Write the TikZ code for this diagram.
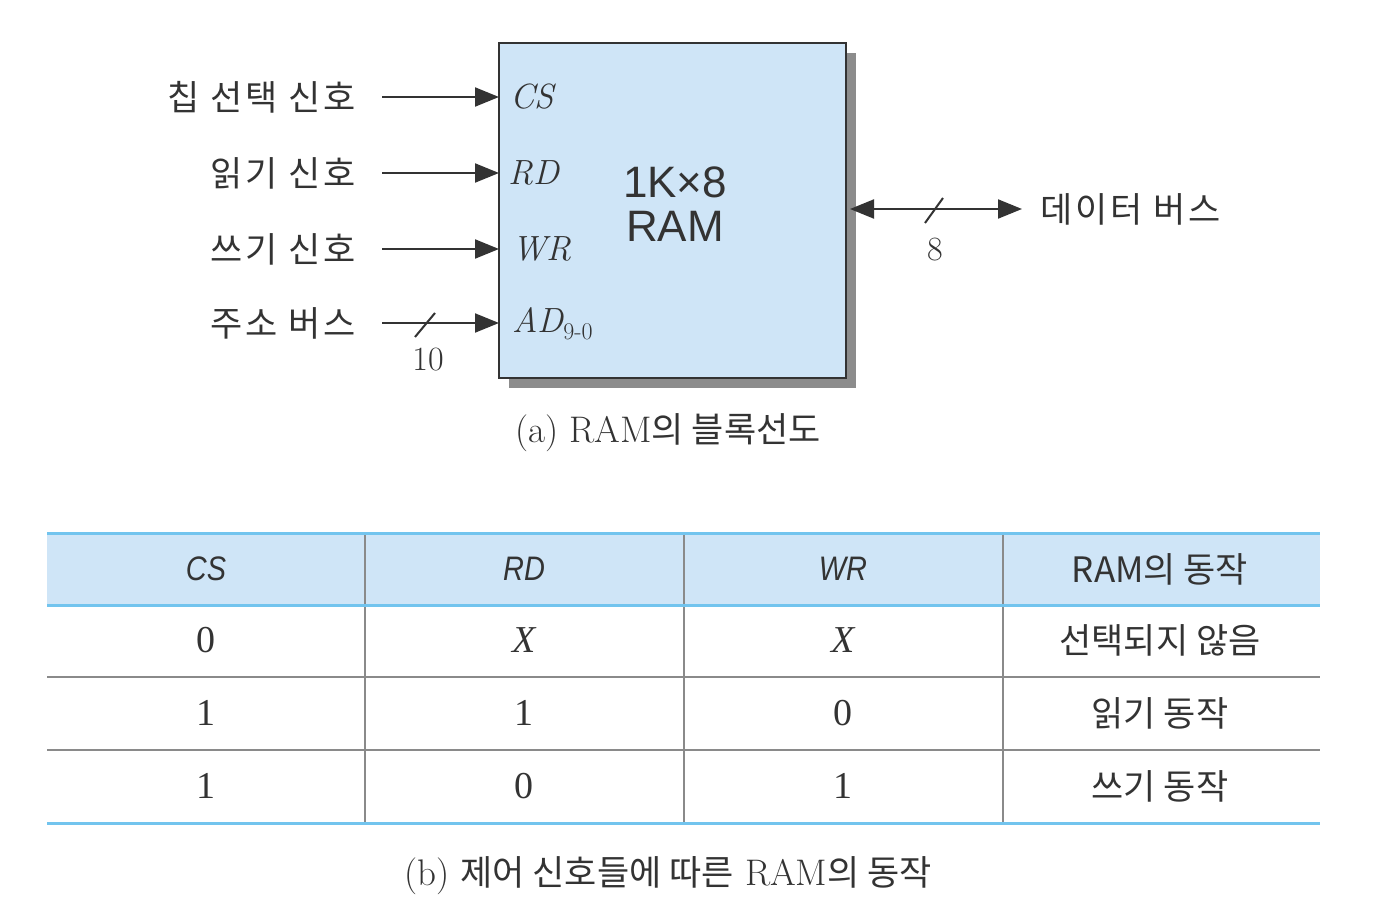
\documentclass[tikz,border=0pt]{standalone}
\usepackage{fontspec}
\newfontfamily\kr[LetterSpace=8]{Noto Sans CJK KR}
\newfontfamily\krt{Noto Sans CJK KR}
\newfontfamily\hv{Liberation Sans}
\newfontfamily\tm{Liberation Serif}
\usetikzlibrary{arrows.meta,shadows}
\definecolor{boxblue}{HTML}{CFE5F7}
\definecolor{tblue}{HTML}{72C4EE}
\definecolor{ink}{HTML}{333333}
\definecolor{rule}{HTML}{8A8A8A}
\tikzset{
  lbl/.style={font=\kr\fontsize{35}{38}\selectfont, text=ink, anchor=east, inner sep=0pt},
  pinlbl/.style={font=\fontsize{35}{38}\selectfont\itshape, text=ink, anchor=west, inner sep=0pt},
  sig/.style={line width=2pt, draw=ink, -{Triangle[length=24pt,width=19pt]}},
  bus/.style={line width=2pt, draw=ink, {Triangle[length=24pt,width=19pt]}-{Triangle[length=24pt,width=19pt]}},
  slash/.style={line width=2pt, draw=ink},
  num/.style={font=\fontsize{34}{38}\selectfont, text=ink, inner sep=0pt},
  cell/.style={font=\tm\fontsize{38}{40}\selectfont, text=ink, inner sep=0pt},
  kcell/.style={font=\krt\fontsize{35}{38}\selectfont, text=ink, inner sep=0pt},
  hcell/.style={font=\hv\itshape\fontsize{34}{36}\selectfont, text=ink, inner sep=0pt},
  captxt/.style={font=\fontsize{37}{40}\selectfont, text=ink, inner sep=0pt},
  tline/.style={line width=3pt, draw=tblue},
  gline/.style={line width=2pt, draw=rule},
}
\begin{document}
\begin{tikzpicture}[x=1pt,y=-1pt]
\useasboundingbox (0,0) rectangle (1374,918);

% RAM block
\node[draw=ink, line width=2.5pt, fill=boxblue, minimum width=347pt, minimum height=335pt,
      outer sep=0pt, inner sep=0pt,
      drop shadow={shadow xshift=10pt, shadow yshift=-10pt, fill=black!45, opacity=1}]
      (ram) at (672.5,210.5) {};
\node[font=\hv\fontsize{44}{46}\selectfont, text=ink, align=center, inner sep=0pt] (title) at (675,204)
      {1K×8\\[-2pt]RAM};

% inputs
\coordinate (cs0) at (382,97);
\coordinate (rd0) at (382,173);
\coordinate (wr0) at (382,249);
\coordinate (ad0) at (382,323);
\node[lbl] (lcs) at (356,97) {칩 선택 신호};
\node[lbl] (lrd) at (356,173) {읽기 신호};
\node[lbl] (lwr) at (356,249) {쓰기 신호};
\node[lbl] (lad) at (356,323) {주소 버스};
\draw[sig] (cs0) -- (ram.west |- cs0);
\draw[sig] (rd0) -- (ram.west |- rd0);
\draw[sig] (wr0) -- (ram.west |- wr0);
\draw[sig] (ad0) -- (ram.west |- ad0);
\coordinate (s1a) at (415,337);
\coordinate (s1b) at (435,313);
\draw[slash] (s1a) -- (s1b);
\node[num] (n10) at (428,360) {10};

\node[pinlbl] (pcs) at (510,97) {CS};
\node[pinlbl] (prd) at (508,173) {RD};
\node[pinlbl] (pwr) at (512,249) {WR};
\node[pinlbl] (pad) at (512,324) {AD\raisebox{-7pt}{\upshape\fontsize{24}{24}\selectfont 9-0}};

% data bus
\coordinate (db1) at (1022,209);
\draw[bus] (ram.east |- db1) ++(4,0) coordinate (db0) -- (db1);
\coordinate (s2a) at (925,223);
\coordinate (s2b) at (943,198);
\draw[slash] (s2a) -- (s2b);
\node[num] (n8) at (935,250) {8};
\node[lbl, anchor=west] (ldb) at (1040,209) {데이터 버스};

% caption a
\node[captxt] (capa) at (668,433) {(a) RAM{\krt\fontsize{35}{38}\selectfont 의 블록선도}};

% table
\fill[boxblue] (47,533) rectangle (1320,605);
\draw[gline] (365,533) -- (365,823);
\draw[gline] (684,533) -- (684,823);
\draw[gline] (1003,533) -- (1003,823);
\draw[gline] (47,677) -- (1320,677);
\draw[gline] (47,750) -- (1320,750);
\draw[tline] (47,533) -- (1320,533);
\draw[tline] (47,605) -- (1320,605);
\draw[tline] (47,823) -- (1320,823);

\node[hcell] (hcs) at (206,569) {\scalebox{0.85}[1]{CS}};
\node[hcell] (hrd) at (524,569) {\scalebox{0.85}[1]{RD}};
\node[hcell] (hwr) at (843,569) {\scalebox{0.85}[1]{WR}};
\node[kcell] (hop) at (1160,569) {RAM의 동작};

\node[cell] (c11) at (206,640) {0};
\node[cell] (c12) at (524,640) {\itshape X};
\node[cell] (c13) at (843,640) {\itshape X};
\node[kcell] (c14) at (1160,640) {선택되지 않음};

\node[cell] (c21) at (206,713) {1};
\node[cell] (c22) at (524,713) {1};
\node[cell] (c23) at (843,713) {0};
\node[kcell] (c24) at (1160,713) {읽기 동작};

\node[cell] (c31) at (206,786) {1};
\node[cell] (c32) at (524,786) {0};
\node[cell] (c33) at (843,786) {1};
\node[kcell] (c34) at (1160,786) {쓰기 동작};

\node[captxt] (capb) at (668,876) {(b) {\krt\fontsize{35}{38}\selectfont 제어 신호들에 따른} RAM{\krt\fontsize{35}{38}\selectfont 의 동작}};
\end{tikzpicture}
\end{document}
